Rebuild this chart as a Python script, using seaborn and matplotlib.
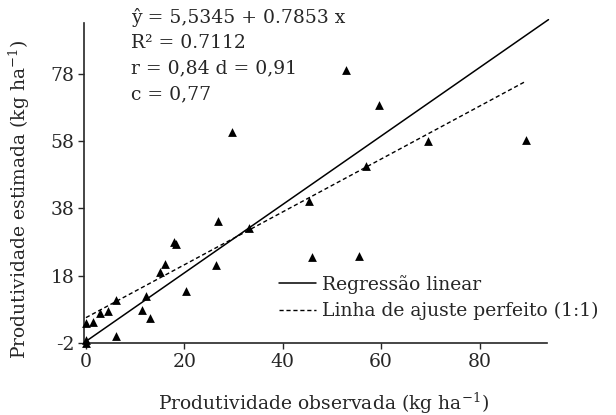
import numpy as np
import pandas as pd
import seaborn as sns
import matplotlib
matplotlib.use("Agg")
import matplotlib.pyplot as plt
from matplotlib.lines import Line2D

# --- data ---
obs_x = [0, 0, 0, 1.5, 2.8, 4.4, 6.2, 6.2, 11.3, 12.1, 13.0, 15.1, 16.0,
         17.9, 18.2, 20.3, 26.4, 26.9, 29.6, 33.2, 45.4, 46.0, 52.8, 55.5,
         57.0, 59.6, 69.6, 89.4]
est_y = [3.8, -1.0, -2.0, 4.1, 7.0, 7.6, 10.7, 0.2, 7.7, 12.0, 5.3, 19.1, 21.5,
         28.1, 27.4, 13.4, 21.2, 34.3, 60.6, 32.0, 40.2, 23.5, 78.9, 23.8,
         50.5, 68.6, 58.0, 58.2]

# line end points (solid = 1:1, dashed = fitted line, as drawn in the source)
solid_x = [0, 94]
solid_y = [-1.5, 94]
dash_x = [0, 89.4]
dash_y = [5.53, 75.7]

x_ticks = [0, 20, 40, 60, 80]
y_ticks = [-2, 18, 38, 58, 78]

stats_lines = ["ŷ = 5,5345 + 0.7853 x", "R² = 0.7112", "r = 0,84 d = 0,91", "c = 0,77"]
legend_labels = ["Regressão linear", "Linha de ajuste perfeito (1:1)"]

sns.set_style("ticks")
plt.rcParams["font.family"] = ["DejaVu Serif"]
plt.rcParams["mathtext.fontset"] = "dejavuserif"
plt.rcParams["axes.unicode_minus"] = False
FS = 13.5

fig = plt.figure(figsize=(6.16, 4.15), dpi=100)
ax = fig.add_axes([84 / 616, 1 - 343 / 415, (547 - 84) / 616, (343 - 23) / 415])

df = pd.DataFrame({"obs": obs_x, "est": est_y})
sns.scatterplot(data=df, x="obs", y="est", marker="^", color="black",
                s=40, edgecolor="black", linewidth=0, ax=ax, clip_on=False, zorder=3)

sns.lineplot(x=solid_x, y=solid_y, color="black", linewidth=1.1, ax=ax)
ax.lines[-1].set_clip_on(False)
sns.lineplot(x=dash_x, y=dash_y, color="black", linewidth=1.0, ax=ax)
ax.lines[-1].set_linestyle((0, (3, 2)))

ax.set_xlim(-0.4, 93.7)
ax.set_ylim(-2, 93)
ax.set_xticks(x_ticks)
ax.set_yticks(y_ticks)
ax.tick_params(labelsize=FS, length=4, width=1, pad=3)
sns.despine(ax=ax)
for s in ["left", "bottom"]:
    ax.spines[s].set_linewidth(1.2)

ax.set_xlabel(r"Produtividade observada (kg ha$^{-1}$)", fontsize=FS)
ax.set_ylabel(r"Produtividade estimada (kg ha$^{-1}$)", fontsize=FS)
ax.xaxis.set_label_coords(0.518, -0.15)
ax.yaxis.set_label_coords(-0.112, 0.45)

# statistics block
for i, line in enumerate(stats_lines):
    fig.text(131 / 616, 1 - (23 + 25.3 * i) / 415, line, fontsize=FS,
             ha="left", va="baseline")

handles = [Line2D([], [], color="black", linewidth=1.1),
           Line2D([], [], color="black", linewidth=1.0, linestyle=(0, (3, 2)))]
ax.legend(handles, legend_labels, loc="center left",
          bbox_to_anchor=(279 / 616, 1 - 297.5 / 415), bbox_transform=fig.transFigure,
          frameon=False, fontsize=FS, borderpad=0, borderaxespad=0,
          handlelength=1.95, handletextpad=0.35, labelspacing=0.45)

fig.savefig("out.png", dpi=100)
